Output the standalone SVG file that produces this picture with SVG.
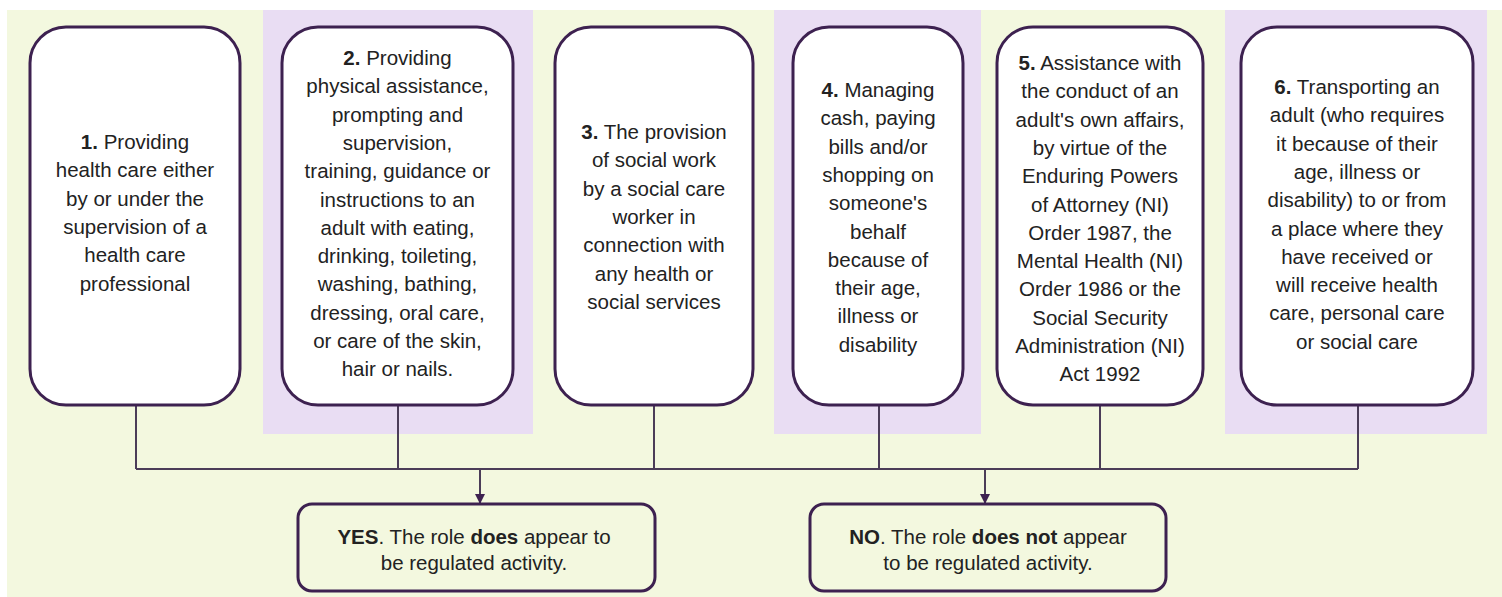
<svg xmlns="http://www.w3.org/2000/svg" width="1502" height="597" viewBox="0 0 1502 597">
<style>
.bg{fill:#f3f8df}
.col{fill:#e9ddf3}
.box{fill:#ffffff;stroke:#3d2150;stroke-width:3}
.res{fill:#f3f8df;stroke:#3d2150;stroke-width:3}
.t{font-family:"Liberation Sans",Arial,sans-serif;font-size:20.5px;fill:#222222;text-anchor:middle}
.b{font-weight:bold}
.con{fill:none;stroke:#4b3d58;stroke-width:2}
</style>
<defs>
<marker id="arr" viewBox="0 0 10 10" refX="9" refY="5" markerWidth="10" markerHeight="10" markerUnits="userSpaceOnUse" orient="auto">
<path d="M0,0 L10,5 L0,10 z" fill="#3d2150"/>
</marker>
</defs>
<rect width="1502" height="597" fill="#ffffff"/>
<rect class="bg" x="7" y="10" width="1495" height="587"/>
<rect class="col" x="263" y="10" width="270" height="424"/>
<rect class="col" x="774" y="10" width="207" height="424"/>
<rect class="col" x="1225" y="10" width="262" height="424"/>

<g id="connectors">
<path class="con" d="M136,405 V469 M398,405 V469 M654,405 V469 M879,405 V469 M1100,405 V469 M1358,405 V469 M136,469 H1358"/>
<path class="con" d="M480,469 V503" marker-end="url(#arr)"/>
<path class="con" d="M985,469 V503" marker-end="url(#arr)"/>
</g>

<g id="node1">
<rect class="box" x="30" y="27" width="210" height="378" rx="36" ry="36"/>
<text class="t" x="135" y="149"><tspan class="b">1.</tspan> Providing<tspan x="135" dy="28.3">health care either</tspan><tspan x="135" dy="28.3">by or under the</tspan><tspan x="135" dy="28.3">supervision of a</tspan><tspan x="135" dy="28.3">health care</tspan><tspan x="135" dy="28.3">professional</tspan></text>
</g>

<g id="node2">
<rect class="box" x="282" y="27" width="231" height="378" rx="36" ry="36"/>
<text class="t" x="397.5" y="65"><tspan class="b">2.</tspan> Providing<tspan x="397.5" dy="28.3">physical assistance,</tspan><tspan x="397.5" dy="28.3">prompting and</tspan><tspan x="397.5" dy="28.3">supervision,</tspan><tspan x="397.5" dy="28.3">training, guidance or</tspan><tspan x="397.5" dy="28.3">instructions to an</tspan><tspan x="397.5" dy="28.3">adult with eating,</tspan><tspan x="397.5" dy="28.3">drinking, toileting,</tspan><tspan x="397.5" dy="28.3">washing, bathing,</tspan><tspan x="397.5" dy="28.3">dressing, oral care,</tspan><tspan x="397.5" dy="28.3">or care of the skin,</tspan><tspan x="397.5" dy="28.3">hair or nails.</tspan></text>
</g>

<g id="node3">
<rect class="box" x="555" y="27" width="198" height="378" rx="36" ry="36"/>
<text class="t" x="654" y="139"><tspan class="b">3.</tspan> The provision<tspan x="654" dy="28.3">of social work</tspan><tspan x="654" dy="28.3">by a social care</tspan><tspan x="654" dy="28.3">worker in</tspan><tspan x="654" dy="28.3">connection with</tspan><tspan x="654" dy="28.3">any health or</tspan><tspan x="654" dy="28.3">social services</tspan></text>
</g>

<g id="node4">
<rect class="box" x="793" y="27" width="170" height="378" rx="36" ry="36"/>
<text class="t" x="878" y="97"><tspan class="b">4.</tspan> Managing<tspan x="878" dy="28.3">cash, paying</tspan><tspan x="878" dy="28.3">bills and/or</tspan><tspan x="878" dy="28.3">shopping on</tspan><tspan x="878" dy="28.3">someone's</tspan><tspan x="878" dy="28.3">behalf</tspan><tspan x="878" dy="28.3">because of</tspan><tspan x="878" dy="28.3">their age,</tspan><tspan x="878" dy="28.3">illness or</tspan><tspan x="878" dy="28.3">disability</tspan></text>
</g>

<g id="node5">
<rect class="box" x="997" y="27" width="206" height="378" rx="36" ry="36"/>
<text class="t" x="1100" y="70"><tspan class="b">5.</tspan> Assistance with<tspan x="1100" dy="28.3">the conduct of an</tspan><tspan x="1100" dy="28.3">adult's own affairs,</tspan><tspan x="1100" dy="28.3">by virtue of the</tspan><tspan x="1100" dy="28.3">Enduring Powers</tspan><tspan x="1100" dy="28.3">of Attorney (NI)</tspan><tspan x="1100" dy="28.3">Order 1987, the</tspan><tspan x="1100" dy="28.3">Mental Health (NI)</tspan><tspan x="1100" dy="28.3">Order 1986 or the</tspan><tspan x="1100" dy="28.3">Social Security</tspan><tspan x="1100" dy="28.3">Administration (NI)</tspan><tspan x="1100" dy="28.3">Act 1992</tspan></text>
</g>

<g id="node6">
<rect class="box" x="1241" y="27" width="232" height="378" rx="36" ry="36"/>
<text class="t" x="1357" y="94"><tspan class="b">6.</tspan> Transporting an<tspan x="1357" dy="28.3">adult (who requires</tspan><tspan x="1357" dy="28.3">it because of their</tspan><tspan x="1357" dy="28.3">age, illness or</tspan><tspan x="1357" dy="28.3">disability) to or from</tspan><tspan x="1357" dy="28.3">a place where they</tspan><tspan x="1357" dy="28.3">have received or</tspan><tspan x="1357" dy="28.3">will receive health</tspan><tspan x="1357" dy="28.3">care, personal care</tspan><tspan x="1357" dy="28.3">or social care</tspan></text>
</g>

<g id="yes">
<rect class="res" x="298" y="504" width="357" height="87" rx="14" ry="14"/>
<text class="t" x="474" y="544"><tspan class="b">YES</tspan>. The role <tspan class="b">does</tspan> appear to<tspan x="474" dy="26">be regulated activity.</tspan></text>
</g>

<g id="no">
<rect class="res" x="810" y="504" width="356" height="87" rx="14" ry="14"/>
<text class="t" x="988" y="544"><tspan class="b">NO</tspan>. The role <tspan class="b">does not</tspan> appear<tspan x="988" dy="26">to be regulated activity.</tspan></text>
</g>
</svg>
